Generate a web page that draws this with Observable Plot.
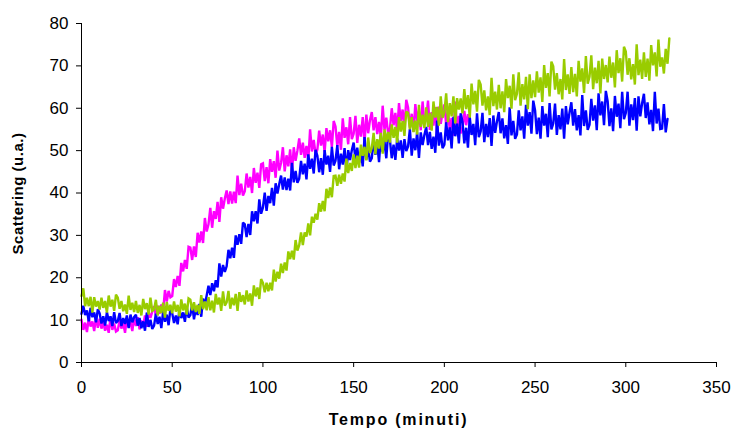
<!DOCTYPE html>
<html><head><meta charset="utf-8">
<script src="https://cdn.jsdelivr.net/npm/d3@7"></script>
<script src="https://cdn.jsdelivr.net/npm/@observablehq/plot@0.6"></script>
<style>body{margin:0;background:#fff}</style>
</head><body><div id="chart"></div>
<script>
// Time in minutes: one reading per minute, starting at 0
const magenta = [
10.1,7.7,9.4,7.2,10.5,8.5,9.7,7.4,10.8,8.2,
10.3,8.0,9.5,7.5,8.9,7.0,10.7,7.7,9.2,7.3,
7.6,10.0,8.0,9.4,7.0,10.5,8.3,9.6,7.4,10.6,
8.6,10.7,7.8,9.9,8.7,11.1,8.4,11.9,10.5,12.0,
13.3,11.1,13.4,11.5,13.7,12.1,17.1,14.4,16.9,15.4,
15.7,19.7,17.8,20.4,18.1,23.5,21.5,24.2,22.1,27.3,
27.1,24.2,27.4,24.9,30.6,28.3,30.9,28.2,34.1,30.9,
32.6,36.5,31.8,35.7,33.9,37.9,33.2,39.0,36.3,38.7,
40.6,37.4,40.4,37.5,40.3,37.6,44.1,39.5,42.2,39.4,
40.4,44.6,41.3,43.8,40.0,45.9,42.4,44.8,41.2,46.8,
47.0,42.8,46.1,42.3,48.0,45.0,47.5,43.6,50.0,45.3,
47.1,50.8,45.1,48.9,46.3,50.3,44.9,50.8,47.6,50.0,
52.9,49.0,51.9,48.3,51.1,47.7,55.0,49.8,52.5,49.3,
50.2,54.7,51.2,53.8,49.6,55.3,52.2,54.8,50.8,57.0,
55.7,51.0,54.4,50.2,57.6,53.0,55.5,51.5,57.9,52.7,
54.0,58.2,51.8,56.1,53.3,57.9,51.9,58.5,54.1,57.2,
59.1,54.8,57.9,53.9,56.8,53.0,60.6,54.8,57.8,54.1,
55.1,60.0,56.0,58.9,54.3,61.2,57.0,59.7,55.4,62.0,
60.2,55.4,58.7,54.4,61.0,57.0,59.4,54.8,61.6,56.3,
57.5,61.8,54.9,59.1,55.9,60.3,53.6,60.4,56.3,59.0,
60.9,56.1,59.3,54.8,57.7,53.5,61.6,55.1,58.2,54.1,
55.3,59.4,56.0,58.6,56.4
];
const blue = [
11.5,13.4,11.2,12.3,9.7,12.9,10.7,11.8,9.5,12.6,
11.6,9.2,10.9,8.7,11.9,9.8,10.9,8.6,11.9,9.3,
9.8,11.7,8.6,10.5,9.1,11.1,8.1,11.3,9.5,10.7,
11.3,8.7,10.5,8.1,9.7,7.5,11.8,8.4,10.1,7.9,
8.7,11.5,9.1,10.8,8.1,12.1,9.6,11.3,8.8,12.6,
11.6,9.3,11.1,9.0,12.4,10.5,11.8,9.6,13.1,10.6,
11.2,13.7,10.2,12.7,11.2,13.8,10.8,15.1,13.6,15.8,
18.1,15.9,18.7,16.8,19.4,17.7,23.4,20.3,23.0,21.4,
22.7,26.6,24.6,27.1,24.7,30.0,27.8,30.3,28.0,33.0,
32.6,29.6,32.7,30.1,35.7,33.3,35.7,32.8,38.5,35.1,
36.6,40.1,35.8,39.3,37.6,41.2,37.0,42.3,39.9,42.1,
44.1,40.8,43.7,40.7,43.4,40.6,47.1,42.5,45.2,42.4,
43.4,47.6,44.4,46.9,43.2,49.1,45.7,48.1,44.6,50.2,
48.8,44.9,48.2,44.3,50.1,46.7,48.8,45.0,50.9,46.5,
47.6,51.3,45.6,49.3,46.7,50.6,45.1,50.1,47.8,50.1,
51.9,47.9,50.7,47.1,49.7,46.3,53.2,47.9,50.7,47.4,
48.2,52.7,49.0,51.6,47.3,53.6,49.7,52.2,48.2,54.2,
52.5,48.2,51.4,47.8,52.9,50.0,52.4,48.3,52.7,49.9,
51.0,55.1,48.8,52.9,50.1,54.3,48.3,54.3,51.3,53.7,
55.6,51.3,54.4,50.4,53.3,49.5,57.1,51.2,54.3,50.6,
51.4,56.7,52.4,55.5,50.5,58.0,53.4,56.4,51.7,58.8,
56.8,51.7,55.4,50.7,57.9,53.7,56.3,51.3,58.8,53.2,
54.5,58.9,52.0,56.3,53.2,57.7,51.1,58.3,54.2,56.9,
59.1,54.1,57.6,52.9,56.0,51.6,60.2,53.6,57.0,52.8,
53.8,59.5,54.8,58.1,52.8,60.8,55.9,59.1,54.0,61.8,
59.5,53.9,57.8,52.8,60.5,55.9,58.7,53.2,61.2,55.0,
56.4,61.1,53.7,58.4,55.0,59.9,52.8,60.5,56.2,59.0,
61.4,55.9,59.8,54.8,58.4,53.6,63.1,55.8,59.5,54.9,
56.1,62.2,57.1,60.7,54.8,63.5,58.3,61.6,56.0,64.1,
61.7,55.8,60.0,54.6,62.9,58.0,61.1,55.3,63.9,57.4,
58.9,63.9,55.9,60.9,57.2,62.4,54.7,62.8,58.1,61.2,
63.4,57.7,61.4,56.2,59.6,54.6,63.9,56.4,59.9,55.1,
55.2,61.0,54.3,57.5
];
const green = [
15.7,17.5,13.3,15.3,13.3,15.5,11.8,15.4,13.2,14.5,
12.5,15.3,12.9,14.5,11.8,15.8,13.2,14.8,12.2,16.0,
15.3,12.7,14.5,12.1,13.7,11.5,15.8,12.4,14.1,11.9,
14.5,11.7,13.6,11.1,15.0,12.6,14.0,11.3,15.3,12.2,
12.5,14.8,11.1,13.4,11.7,14.1,10.6,14.3,12.2,13.6,
11.6,14.4,12.0,13.6,10.9,14.9,12.3,13.9,11.3,15.1,
14.8,12.3,14.2,11.9,13.6,11.5,15.9,12.6,14.4,12.3,
15.4,12.3,14.6,11.8,16.2,13.7,15.3,12.2,16.8,13.4,
14.2,16.9,12.7,15.3,13.5,16.2,12.2,16.6,14.3,15.9,
13.7,17.0,14.4,16.3,13.4,18.2,15.6,17.7,15.0,19.7,
18.8,16.6,18.8,16.8,18.8,17.0,21.9,19.1,21.4,19.8,
23.3,21.1,23.6,21.7,26.2,24.4,26.4,24.3,28.9,26.4,
27.7,30.7,27.7,30.7,29.7,32.8,30.0,34.4,33.0,35.1,
33.7,37.6,35.6,38.1,35.7,41.0,38.8,41.3,39.0,44.0,
44.1,41.7,44.3,42.2,44.6,42.7,48.1,44.7,47.1,45.2,
49.1,45.9,48.8,46.0,51.4,48.8,50.9,47.7,53.1,49.4,
50.6,54.2,49.1,52.7,50.5,54.2,49.3,55.0,52.1,54.4,
51.9,56.2,53.0,55.6,51.9,57.9,54.5,57.0,53.5,59.2,
58.9,55.0,57.9,54.4,57.1,53.8,60.8,55.6,58.5,55.3,
60.2,55.6,58.9,54.7,61.6,57.8,60.3,55.9,62.8,57.7,
59.0,63.5,56.7,61.2,58.1,62.8,56.4,62.4,59.7,62.3,
58.8,64.5,59.8,63.1,57.8,65.8,60.9,64.1,59.2,66.7,
65.6,60.6,64.2,59.5,62.8,58.4,67.2,60.5,63.9,59.7,
65.5,60.0,64.0,59.1,66.9,62.4,65.3,59.9,68.0,61.9,
63.4,68.5,60.6,65.7,62.1,67.4,59.8,68.0,62.4,66.6,
62.6,68.7,63.7,67.3,61.5,70.2,64.8,68.3,62.8,71.0,
69.9,64.4,68.3,63.3,66.9,62.1,71.6,64.3,68.0,63.4,
69.7,63.8,68.1,62.8,71.2,66.3,69.4,63.6,72.3,65.8,
67.4,72.5,64.5,69.6,65.9,71.2,63.5,71.7,66.9,70.2,
66.1,72.2,67.2,70.8,64.9,73.7,68.3,71.8,66.3,74.5,
73.4,67.9,71.8,66.8,70.4,65.6,75.1,67.8,71.5,66.9,
73.2,67.4,71.7,66.5,74.9,70.1,73.2,67.5,76.2,69.8,
72.0,68.2,74.0,70.5,76.5
];
const seriesNames = ["Serie 1", "Serie 2", "Serie 3"];
const seriesColors = ["#FF00FF", "#0000FF", "#99CC00"];
const xTicks = [0, 50, 100, 150, 200, 250, 300, 350];
const yTicks = [0, 10, 20, 30, 40, 50, 60, 70, 80];
const xTitle = "Tempo (minuti)";
const yTitle = "Scattering (u.a.)";

const rows = [];
[magenta, blue, green].forEach((arr, i) => {
  arr.forEach((v, t) => rows.push({series: seriesNames[i], t: t, v: v}));
});

const chart = Plot.plot({
  width: 733,
  height: 430,
  marginLeft: 81,
  marginRight: 17,
  marginTop: 23,
  marginBottom: 68,
  style: {fontFamily: "'Liberation Sans', Arial, sans-serif", fontSize: "17px", color: "#000", background: "#fff"},
  x: {domain: [0, 350], ticks: xTicks, tickFormat: d => String(d), label: null, tickSize: 5, tickPadding: 13},
  y: {domain: [0, 80], ticks: yTicks, tickFormat: d => String(d), label: null, tickSize: 5, tickPadding: 8},
  color: {type: "ordinal", domain: seriesNames, range: seriesColors},
  marks: [
    Plot.line(rows, {x: "t", y: "v", z: "series", stroke: "series", strokeWidth: 2.4, strokeLinejoin: "miter", strokeMiterlimit: 2}),
    Plot.ruleX([0], {stroke: "#000"}),
    Plot.ruleY([0], {stroke: "#000"})
  ]
});

document.getElementById("chart").appendChild(chart);
const svg = d3.select(chart);
svg.append("text")
  .attr("x", 398.5).attr("y", 425)
  .attr("text-anchor", "middle")
  .attr("font-weight", "bold").attr("font-size", 16)
  .attr("letter-spacing", 1.8)
  .attr("fill", "#000")
  .text(xTitle);
svg.append("text")
  .attr("transform", "translate(23,193.5) rotate(-90)")
  .attr("text-anchor", "middle")
  .attr("font-weight", "bold").attr("font-size", 15)
  .attr("letter-spacing", 0.5)
  .attr("fill", "#000")
  .text(yTitle);
</script></body></html>
